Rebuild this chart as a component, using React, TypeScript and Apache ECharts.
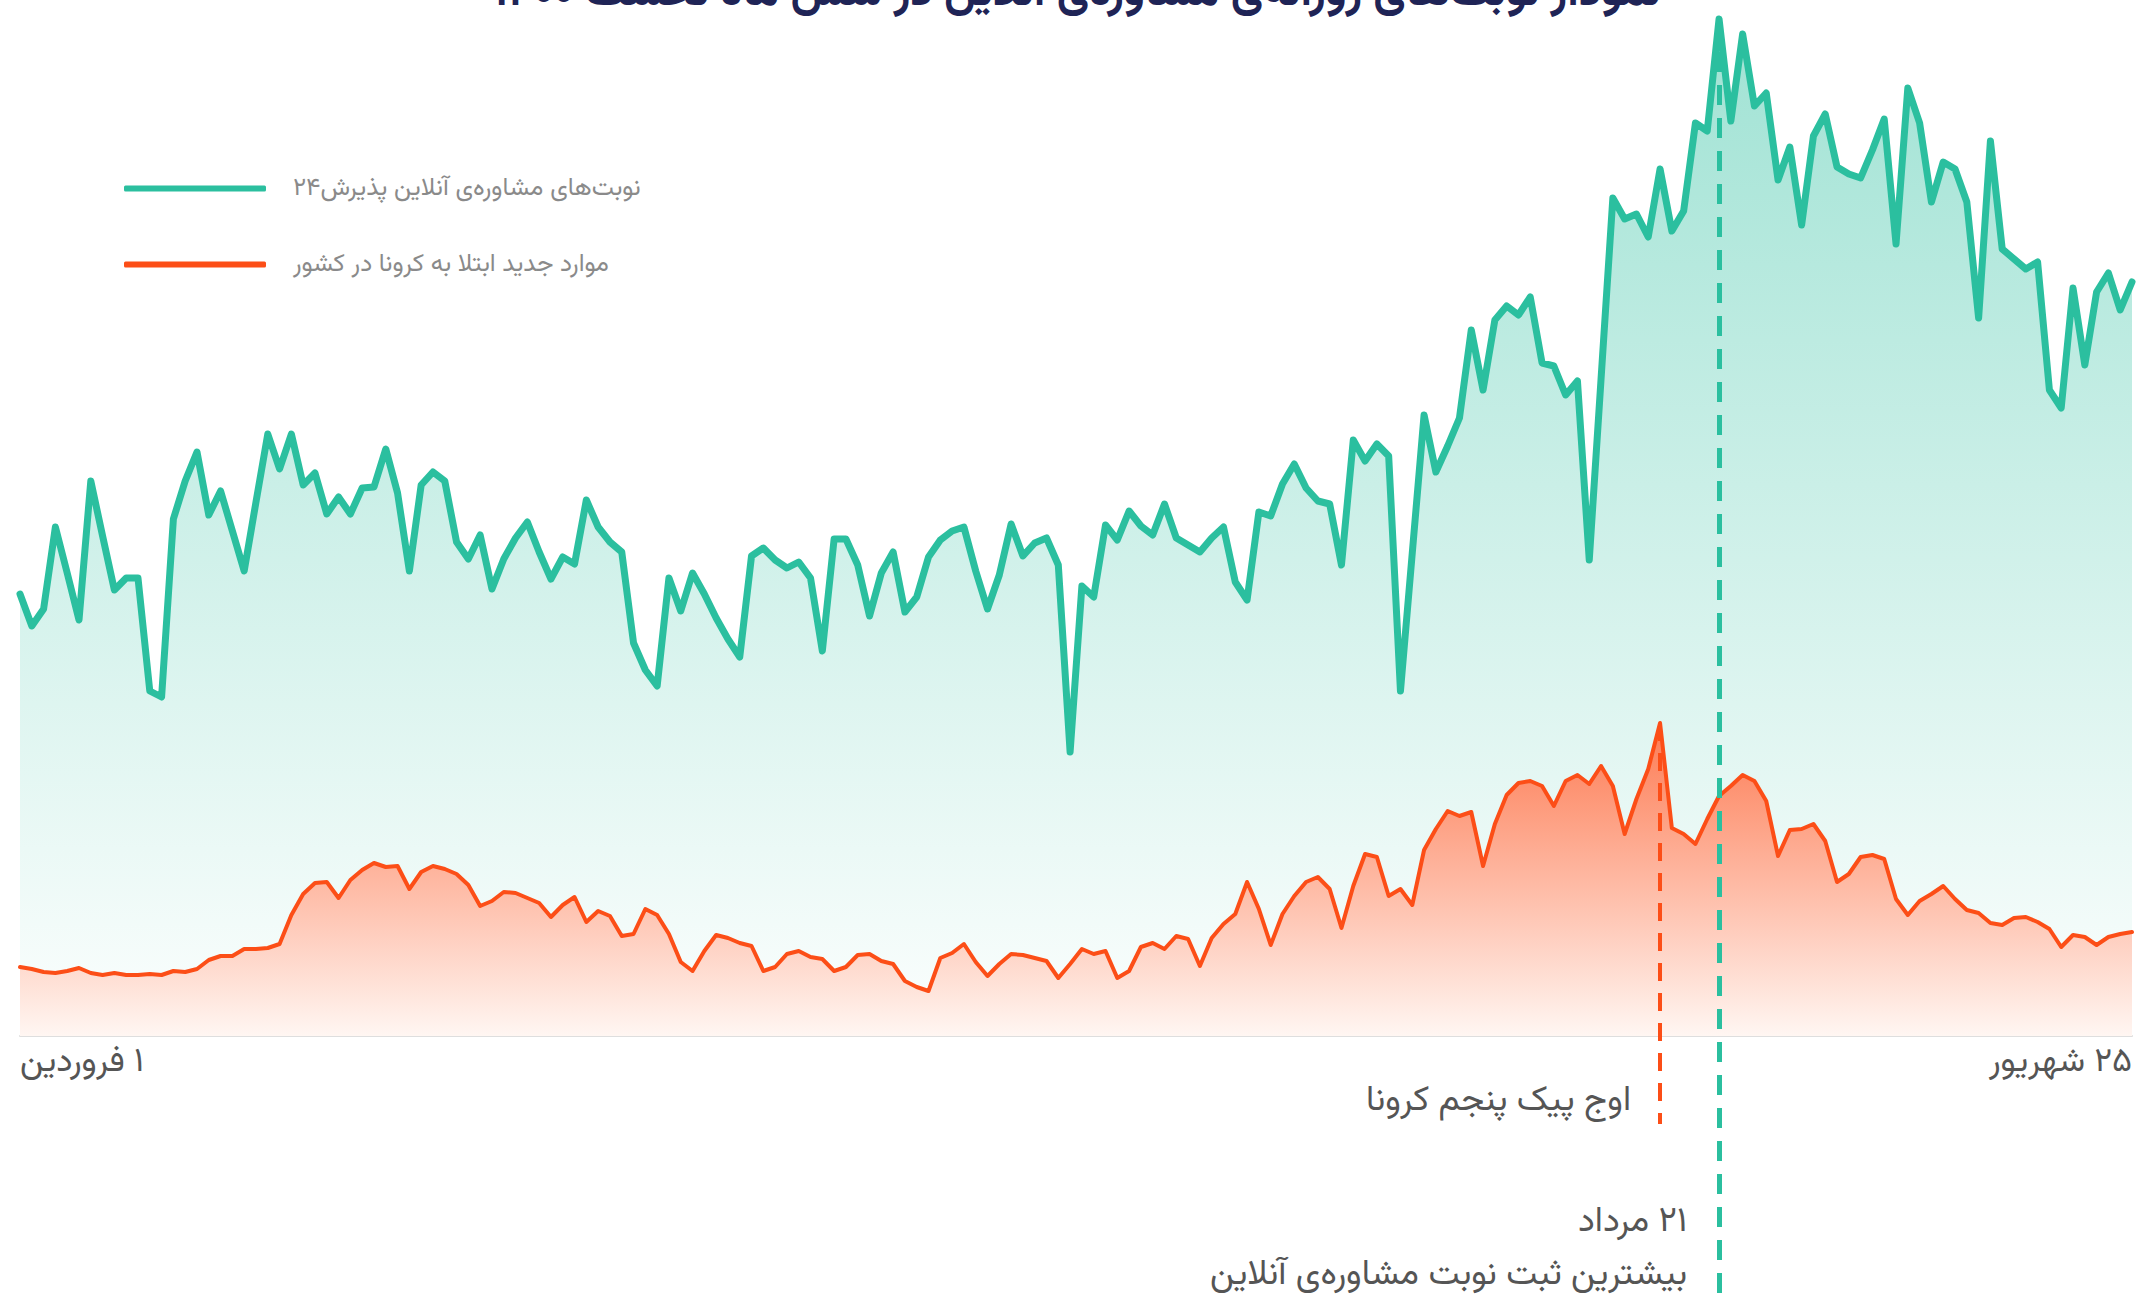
import React, { useEffect, useRef } from "react";
import * as echarts from "echarts";

// ---------- data ----------
const MONTHS = ["فروردین", "اردیبهشت", "خرداد", "تیر", "مرداد", "شهریور"];
const DAYS_PER_MONTH = 31;
const LAST_MONTH_DAYS = 25;
const FA_DIGITS = "۰۱۲۳۴۵۶۷۸۹";
const faNum = (n: number) => String(n).replace(/\d/g, (d) => FA_DIGITS[+d]);
const DAYS: string[] = [];
MONTHS.forEach((m, mi) => {
  const n = mi === MONTHS.length - 1 ? LAST_MONTH_DAYS : DAYS_PER_MONTH;
  for (let d = 1; d <= n; d++) DAYS.push(`${faNum(d)} ${m}`);
});
// lay a date out right-to-left (day number on the right), as in the original
const rtl = (s: string) => `\u202B${s}\u202C`;

const TITLE = "نمودار نوبت\u200cهای روزانه\u200cی مشاوره\u200cی آنلاین در شش ماه نخست ۱۴۰۰";
const GREEN_NAME = "نوبت\u200cهای مشاوره\u200cی آنلاین پذیرش۲۴";
const ORANGE_NAME = "موارد جدید ابتلا به کرونا در کشور";
const ORANGE_NOTE = "اوج پیک پنجم کرونا";
const GREEN_NOTE = "بیشترین ثبت نوبت مشاوره\u200cی آنلاین";

// daily online consultation appointments (relative units)
const GREEN_VALUES = [
  442, 410, 427, 509, 463, 416, 555, 500, 446, 458,
  458, 345, 339, 517, 555, 584, 521, 545, 505, 465,
  534, 602, 567, 602, 551, 563, 522, 539, 522, 548,
  549, 587, 543, 465, 551, 564, 555, 494, 477, 501,
  447, 477, 498, 514, 484, 457, 479, 472, 536, 509,
  494, 484, 393, 366, 350, 458, 425, 463, 442, 418,
  397, 379, 480, 488, 476, 468, 474, 458, 385, 497,
  497, 471, 420, 463, 484, 424, 439, 479, 496, 505,
  509, 465, 427, 461, 512, 480, 493, 498, 471, 284,
  450, 439, 511, 496, 525, 510, 501, 532, 498, 491,
  484, 498, 509, 454, 436, 524, 520, 552, 572, 548,
  535, 532, 471, 596, 575, 592, 580, 345, 483, 621,
  564, 590, 618, 706, 646, 716, 730, 721, 739, 673,
  670, 641, 655, 476, 657, 838, 817, 822, 799, 867,
  805, 825, 913, 905, 1017, 915, 1002, 930, 943, 856,
  889, 811, 900, 922, 869, 862, 858, 886, 917, 792,
  948, 913, 834, 874, 867, 834, 718, 895, 787, 777,
  767, 774, 646, 628, 748, 671, 744, 763, 726, 754,
];

// daily new covid cases (relative units)
const ORANGE_VALUES = [
  69, 67, 64, 63, 65, 68, 63, 61, 63, 61,
  61, 62, 61, 65, 64, 67, 76, 80, 80, 87,
  87, 88, 92, 121, 142, 153, 154, 138, 156, 166,
  173, 169, 170, 147, 164, 170, 167, 162, 151, 130,
  135, 144, 143, 138, 133, 119, 131, 139, 114, 125,
  120, 100, 102, 127, 121, 102, 74, 65, 85, 101,
  98, 93, 90, 65, 69, 82, 85, 79, 77, 65,
  69, 81, 82, 75, 72, 55, 49, 45, 78, 83,
  92, 74, 60, 72, 82, 81, 78, 75, 58, 72,
  87, 82, 85, 58, 65, 89, 93, 87, 100, 97,
  70, 98, 112, 122, 154, 127, 91, 122, 140, 154,
  159, 147, 108, 150, 182, 179, 140, 147, 131, 186,
  207, 225, 220, 224, 170, 212, 241, 253, 255, 250,
  230, 255, 261, 252, 270, 250, 202, 237, 267, 313,
  208, 202, 192, 217, 240, 250, 261, 255, 235, 180,
  206, 207, 212, 195, 154, 162, 179, 181, 177, 137,
  121, 135, 142, 150, 137, 126, 123, 113, 111, 118,
  119, 114, 107, 89, 101, 99, 91, 99, 102, 104,
];

const Y_MIN = 0;
const Y_MAX = 1036;

const argMax = (a: number[]) => a.reduce((bi, v, i) => (v > a[bi] ? i : bi), 0);

const GREEN_C = "#2bbf9f";
const ORANGE_C = "#fc4e17";
const FONT = "Vazirmatn, 'DejaVu Sans', 'Noto Sans', sans-serif";

export default function App() {
  const ref = useRef<HTMLDivElement>(null);

  useEffect(() => {
    document.body.style.margin = "0";
    if (!ref.current) return;
    const chart = echarts.init(ref.current, undefined, { renderer: "svg" });
    const gPeak = argMax(GREEN_VALUES);
    const oPeak = argMax(ORANGE_VALUES);

    const option: any = {
      animation: false,
      color: [GREEN_C, ORANGE_C],
      textStyle: { fontFamily: FONT },
      grid: { left: 20, right: 4, top: 0, bottom: 260, outerBoundsMode: "none" },
      legend: {
        orient: "vertical",
        left: 124,
        top: 176,
        padding: 0,
        itemWidth: 142,
        itemHeight: 6,
        itemGap: 51,
        icon: "roundRect",
        selectedMode: false,
        textStyle: { color: "#8a8a8a", fontSize: 25, fontFamily: FONT, padding: [0, 0, 0, 22] },
        data: [GREEN_NAME, ORANGE_NAME],
      },
      xAxis: {
        type: "category",
        data: DAYS,
        boundaryGap: false,
        axisLine: { lineStyle: { color: "#dedede", width: 2 } },
        axisTick: { show: false },
        splitLine: { show: false },
        axisLabel: {
          interval: (i: number) => i === 0 || i === DAYS.length - 1,
          formatter: (v: string) => rtl(v),
          showMinLabel: true,
          showMaxLabel: true,
          alignMinLabel: "left",
          alignMaxLabel: "right",
          color: "#555",
          fontSize: 34,
          margin: 9,
          fontFamily: FONT,
        },
      },
      yAxis: { type: "value", min: Y_MIN, max: Y_MAX, show: false },
      series: [
        {
          name: GREEN_NAME,
          type: "line",
          data: GREEN_VALUES,
          clip: false,
          showSymbol: false,
          symbol: "none",
          itemStyle: { color: GREEN_C },
          lineStyle: { width: 7, color: GREEN_C, join: "round", cap: "round" },
          areaStyle: {
            color: new echarts.graphic.LinearGradient(0, 0, 0, 1, [
              { offset: 0, color: "rgba(43,191,159,0.64)" },
              { offset: 1, color: "rgba(43,191,159,0.02)" },
            ]),
          },
          markLine: {
            silent: true,
            symbol: ["none", "none"],
            label: { show: false },
            lineStyle: { color: GREEN_C, width: 5, type: [20, 13] },
            data: [[{ coord: [DAYS[gPeak], GREEN_VALUES[gPeak]] }, { coord: [DAYS[gPeak], 0], y: "100%" }]],
          },
        },
        {
          name: ORANGE_NAME,
          type: "line",
          data: ORANGE_VALUES,
          clip: false,
          showSymbol: false,
          symbol: "none",
          itemStyle: { color: ORANGE_C },
          lineStyle: { width: 4, color: ORANGE_C, join: "round", cap: "round" },
          areaStyle: {
            opacity: 1,
            color: new echarts.graphic.LinearGradient(0, 0, 0, 1, [
              { offset: 0, color: "rgb(253,122,82)" },
              { offset: 1, color: "rgb(255,246,242)" },
            ]),
          },
          markLine: {
            silent: true,
            symbol: ["none", "none"],
            label: { show: false },
            lineStyle: { color: ORANGE_C, width: 4, type: [18, 12] },
            data: [[{ coord: [DAYS[oPeak], ORANGE_VALUES[oPeak]] }, { coord: [DAYS[oPeak], 0], y: 1124 }]],
          },
        },
      ],
      graphic: [
        {
          type: "text",
          x: 1077,
          y: 16,
          silent: true,
          style: {
            text: TITLE,
            fill: "#1f2456",
            fontSize: 45,
            fontWeight: "bold",
            fontFamily: FONT,
            align: "center",
            verticalAlign: "bottom",
          },
        },
        {
          type: "text",
          x: 1631,
          y: 1101,
          silent: true,
          style: { text: ORANGE_NOTE, fill: "#555", fontSize: 35, fontFamily: FONT, align: "right", verticalAlign: "middle" },
        },
        {
          type: "text",
          x: 1687,
          y: 1222,
          silent: true,
          style: { text: rtl(DAYS[gPeak]), fill: "#555", fontSize: 35, fontFamily: FONT, align: "right", verticalAlign: "middle" },
        },
        {
          type: "text",
          x: 1687,
          y: 1275,
          silent: true,
          style: { text: GREEN_NOTE, fill: "#555", fontSize: 35, fontFamily: FONT, align: "right", verticalAlign: "middle" },
        },
      ],
    };
    chart.setOption(option);
    return () => chart.dispose();
  }, []);

  return (
    <>
      <style>{"svg text{unicode-bidi:plaintext;}"}</style>
      <div ref={ref} style={{ position: "absolute", left: 0, top: 0, width: 2136, height: 1296 }} />
    </>
  );
}
